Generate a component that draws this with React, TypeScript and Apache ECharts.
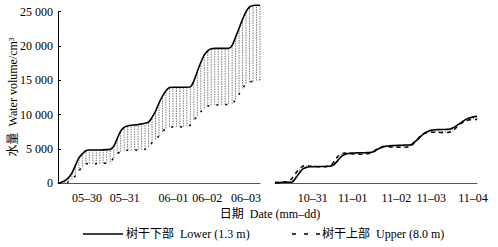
import React, { useEffect, useRef } from "react";
import * as echarts from "echarts";

// Time since start of each panel, hours
const hours = [
  0, 2, 4, 6, 8, 10, 12, 14, 16, 18,
  20, 22, 24, 26, 28, 30, 32, 34, 36, 38,
  40, 42, 44, 46, 48, 50, 52, 54, 56, 58,
  60, 62, 64, 66, 68, 70, 72, 74, 76, 78,
  80, 82, 84, 86, 88, 90, 92, 94, 96, 98,
  100, 102, 104, 106, 108, 110, 112, 114, 116,
];

// Left panel (May–June)
const springLower = [
  0, 150, 400, 800, 1500, 2600, 3700, 4300, 4750, 4850,
  4850, 4850, 4850, 4870, 4900, 4950, 5400, 6500, 7600, 8150,
  8350, 8450, 8500, 8550, 8650, 8750, 8900, 9600, 10500, 11700,
  12700, 13500, 13950, 14000, 14000, 14000, 14000, 14000, 14050, 14900,
  16300, 17600, 18700, 19300, 19600, 19650, 19650, 19650, 19650, 19650,
  20100, 21300, 22600, 23900, 25000, 25700, 25900, 25950, 25950,
];
const springUpper = [
  0, 0, 50, 200, 500, 1100, 1800, 2400, 2800, 2900,
  2850, 2850, 2850, 2900, 2950, 3100, 3700, 4300, 4600, 4750,
  4800, 4800, 4850, 4850, 4900, 4950, 5300, 5900, 6400, 6900,
  7500, 8000, 8200, 8200, 8200, 8200, 8250, 8300, 8500, 9200,
  9800, 10400, 10900, 11250, 11350, 11400, 11400, 11400, 11450, 11500,
  11600, 12200, 13000, 13800, 14500, 14750, 14850, 14950, 15050,
];

// Right panel (Oct–Nov)
const autumnLower = [
  100, 100, 150, 150, 150, 200, 800, 1500, 2100, 2300,
  2400, 2420, 2450, 2450, 2450, 2480, 2500, 2750, 3300, 3900,
  4200, 4350, 4400, 4420, 4440, 4450, 4460, 4480, 4550, 4800,
  5100, 5300, 5420, 5480, 5500, 5520, 5540, 5560, 5580, 5600,
  6000, 6400, 6900, 7350, 7600, 7750, 7800, 7820, 7840, 7850,
  7870, 8050, 8350, 8700, 9050, 9350, 9550, 9680, 9750,
];
const autumnUpper = [
  100, 100, 150, 200, 300, 800, 1500, 2100, 2500, 2600,
  2500, 2450, 2400, 2400, 2400, 2450, 2600, 3200, 3900, 4300,
  4400, 4350, 4300, 4250, 4250, 4250, 4300, 4350, 4500, 4900,
  5200, 5350, 5350, 5300, 5250, 5250, 5250, 5250, 5300, 5400,
  5900, 6500, 7000, 7300, 7400, 7450, 7450, 7400, 7400, 7400,
  7450, 7600, 8100, 8600, 8900, 9100, 9250, 9300, 9300,
];

// Date tick labels and where they sit (hours)
const springDates = ["05–30", "05–31", "06–01", "06–02", "06–03"];
const springDateHours = [16.6, 38.3, 66.3, 85.7, 108];
const autumnDates = ["10–31", "11–01", "11–02", "11–03", "11–04"];
const autumnDateHours = [21.7, 44.6, 69.7, 89.7, 113.7];

const yTicks = [0, 5000, 10000, 15000, 20000, 25000];

const FONT = "'Liberation Serif', 'Noto Sans CJK SC', serif";

function fmtThousands(v: number) {
  if (v < 1000) return String(v);
  const k = Math.floor(v / 1000);
  const r = String(v % 1000).padStart(3, "0");
  return `${k} ${r}`;
}

export default function App() {
  const ref = useRef<HTMLDivElement>(null);
  useEffect(() => {
    if (!ref.current) return;
    const chart = echarts.init(ref.current, null, { renderer: "svg" });

    const pairs = (up: number[], lo: number[]) =>
      hours.map((h, i) => [h, up[i], lo[i]]);
    const line = (up: number[]) => hours.map((h, i) => [h, up[i]]);

    const renderDiff = (params: any, api: any) => {
      const x = api.value(0);
      const a = api.coord([x, api.value(1)]);
      const b = api.coord([x, api.value(2)]);
      return {
        type: "line",
        shape: { x1: a[0], y1: a[1], x2: b[0], y2: b[1] },
        style: { stroke: "#6e6e6e", lineWidth: 0.9, lineDash: [1.5, 1] },
      };
    };

    const xAxisBase = (labels: string[], pos: number[]) => ({
      type: "value",
      min: 0,
      max: 116,
      axisLine: { show: true, lineStyle: { color: "#555", width: 1 } },
      axisTick: { show: false },
      splitLine: { show: false },
      axisLabel: {
        customValues: pos,
        formatter: (v: number) => {
          const i = pos.findIndex((p) => Math.abs(p - v) < 0.01);
          return i >= 0 ? labels[i] : "";
        },
        color: "#000",
        fontFamily: FONT,
        fontSize: 12,
        margin: 9,
        showMinLabel: true,
        showMaxLabel: true,
      },
    });

    chart.setOption({
      animation: false,
      backgroundColor: "#fff",
      grid: [
        { left: 58, top: 11.7, width: 202, height: 171.6 },
        { left: 275, top: 11.7, width: 202, height: 171.6 },
      ],
      xAxis: [
        { gridIndex: 0, ...xAxisBase(springDates, springDateHours) },
        { gridIndex: 1, ...xAxisBase(autumnDates, autumnDateHours) },
      ],
      yAxis: [
        {
          gridIndex: 0,
          type: "value",
          min: 0,
          max: 25000,
          interval: 5000,
          axisLine: { show: true, lineStyle: { color: "#000", width: 1 } },
          axisTick: { show: true, inside: true, length: 3, lineStyle: { color: "#000" } },
          splitLine: { show: false },
          axisLabel: {
            customValues: yTicks,
            formatter: (v: number) => fmtThousands(v),
            color: "#000",
            fontFamily: FONT,
            fontSize: 12,
            margin: 5,
          },
        },
        {
          gridIndex: 1,
          type: "value",
          min: 0,
          max: 25000,
          interval: 5000,
          show: false,
          splitLine: { show: false },
        },
      ],
      series: [
        {
          type: "custom",
          xAxisIndex: 0,
          yAxisIndex: 0,
          renderItem: renderDiff,
          data: pairs(springUpper, springLower),
          clip: false,
          silent: true,
          z: 1,
        },
        {
          type: "custom",
          xAxisIndex: 1,
          yAxisIndex: 1,
          renderItem: renderDiff,
          data: pairs(autumnUpper, autumnLower),
          clip: false,
          silent: true,
          z: 1,
        },
        {
          name: "lower-spring",
          type: "line",
          xAxisIndex: 0,
          yAxisIndex: 0,
          data: line(springLower),
          showSymbol: false,
          smooth: 0.3,
          clip: false,
          lineStyle: { color: "#000", width: 1.6 },
          z: 3,
        },
        {
          name: "upper-spring",
          type: "line",
          xAxisIndex: 0,
          yAxisIndex: 0,
          data: line(springUpper),
          showSymbol: false,
          smooth: 0.3,
          clip: false,
          lineStyle: { color: "#000", width: 1.5, type: [2, 7] },
          z: 2,
        },
        {
          name: "lower-autumn",
          type: "line",
          xAxisIndex: 1,
          yAxisIndex: 1,
          data: line(autumnLower),
          showSymbol: false,
          smooth: 0.3,
          clip: false,
          lineStyle: { color: "#000", width: 1.6 },
          z: 3,
        },
        {
          name: "upper-autumn",
          type: "line",
          xAxisIndex: 1,
          yAxisIndex: 1,
          data: line(autumnUpper),
          showSymbol: false,
          smooth: 0.3,
          clip: false,
          lineStyle: { color: "#000", width: 1.5, type: [4, 4] },
          z: 2,
        },
      ],
      graphic: [
        {
          type: "text",
          x: 13,
          y: 97,
          rotation: Math.PI / 2,
          style: {
            text: "水量  Water volume/cm³",
            fontFamily: FONT,
            fontSize: 12,
            fill: "#000",
            align: "center",
            verticalAlign: "middle",
          },
        },
        {
          type: "text",
          x: 270,
          y: 214,
          style: {
            text: "日期  Date (mm–dd)",
            fontFamily: FONT,
            fontSize: 12,
            fill: "#000",
            align: "center",
            verticalAlign: "middle",
          },
        },
        {
          type: "line",
          shape: { x1: 83, y1: 234, x2: 123, y2: 234 },
          style: { stroke: "#000", lineWidth: 1.5 },
        },
        {
          type: "text",
          x: 126,
          y: 234,
          style: {
            text: "树干下部  Lower (1.3 m)",
            fontFamily: FONT,
            fontSize: 12,
            fill: "#000",
            align: "left",
            verticalAlign: "middle",
          },
        },
        {
          type: "line",
          shape: { x1: 292, y1: 234, x2: 322, y2: 234 },
          style: { stroke: "#000", lineWidth: 1.5, lineDash: [4, 8] },
        },
        {
          type: "text",
          x: 322,
          y: 234,
          style: {
            text: "树干上部  Upper (8.0 m)",
            fontFamily: FONT,
            fontSize: 12,
            fill: "#000",
            align: "left",
            verticalAlign: "middle",
          },
        },
      ],
    });
    return () => chart.dispose();
  }, []);
  return (
    <div
      ref={ref}
      style={{ position: "absolute", left: 0, top: 0, width: 498, height: 247 }}
    />
  );
}
